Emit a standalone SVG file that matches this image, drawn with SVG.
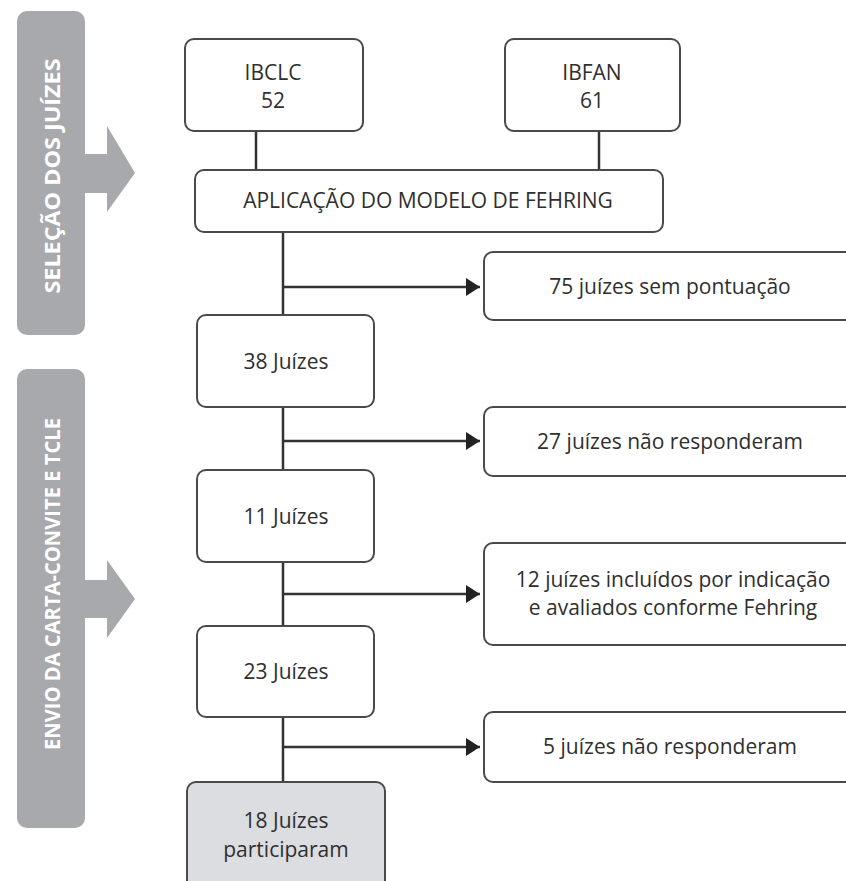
<svg xmlns="http://www.w3.org/2000/svg" width="846" height="881" viewBox="0 0 846 881">
<style>
.box{fill:#fff;stroke:#4a4a4a;stroke-width:2}
.fin{fill:#dcdde0;stroke:#4a4a4a;stroke-width:2}
.t{font-family:"Open Sans","Liberation Sans",sans-serif;font-size:21px;fill:#2f2f2f;text-anchor:middle}
.band{fill:#a8a9ac}
.bt{font-family:"Open Sans","Liberation Sans",sans-serif;font-size:22px;font-weight:bold;fill:#fff;text-anchor:middle}
.ln{stroke:#333;stroke-width:2.5;fill:none}
</style>
<defs>
<marker id="ah" markerWidth="14" markerHeight="18" refX="14" refY="9" orient="auto" markerUnits="userSpaceOnUse">
<path d="M0,0 L14,9 L0,18 Z" fill="#222"/>
</marker>
</defs>
<g id="band1">
<rect class="band" x="17" y="11" width="68" height="324" rx="10"/>
<path class="band" d="M84,154 H107 V126 L135,173 L107,212 V193 H84 Z"/>
<text class="bt" transform="translate(60,176) rotate(-90)" textLength="235" lengthAdjust="spacingAndGlyphs">SELEÇÃO DOS JUÍZES</text>
</g>
<g id="band2">
<rect class="band" x="17" y="369" width="68" height="459" rx="10"/>
<path class="band" d="M84,580 H107 V560 L135,599 L107,638 V618 H84 Z"/>
<text class="bt" transform="translate(60,584) rotate(-90)" textLength="332" lengthAdjust="spacingAndGlyphs">ENVIO DA CARTA-CONVITE E TCLE</text>
</g>
<g id="connectors">
<line class="ln" x1="256" y1="131" x2="256" y2="170"/>
<line class="ln" x1="599" y1="131" x2="599" y2="170"/>
<line class="ln" x1="283" y1="232" x2="283" y2="315"/>
<line class="ln" x1="283" y1="407" x2="283" y2="470"/>
<line class="ln" x1="283" y1="562" x2="283" y2="626"/>
<line class="ln" x1="283" y1="717" x2="283" y2="782"/>
<line class="ln" x1="283" y1="287" x2="480" y2="287" marker-end="url(#ah)"/>
<line class="ln" x1="283" y1="441" x2="480" y2="441" marker-end="url(#ah)"/>
<line class="ln" x1="283" y1="594" x2="480" y2="594" marker-end="url(#ah)"/>
<line class="ln" x1="283" y1="747" x2="480" y2="747" marker-end="url(#ah)"/>
</g>
<g id="ibclc">
<rect class="box" x="185" y="39" width="178" height="92" rx="9"/>
<text class="t" x="273" y="80">IBCLC</text>
<text class="t" x="273" y="108">52</text>
</g>
<g id="ibfan">
<rect class="box" x="505" y="39" width="175" height="92" rx="9"/>
<text class="t" x="592" y="80">IBFAN</text>
<text class="t" x="592" y="108">61</text>
</g>
<g id="fehring">
<rect class="box" x="195" y="170" width="468" height="62" rx="9"/>
<text class="t" x="428" y="208">APLICAÇÃO DO MODELO DE FEHRING</text>
</g>
<g id="j38">
<rect class="box" x="197" y="315" width="177" height="92" rx="9"/>
<text class="t" x="286" y="369">38 Juízes</text>
</g>
<g id="j11">
<rect class="box" x="197" y="470" width="177" height="92" rx="9"/>
<text class="t" x="286" y="524">11 Juízes</text>
</g>
<g id="j23">
<rect class="box" x="197" y="626" width="177" height="91" rx="9"/>
<text class="t" x="286" y="679">23 Juízes</text>
</g>
<g id="j18">
<rect class="fin" x="187" y="782" width="198" height="110" rx="9"/>
<text class="t" x="286" y="828">18 Juízes</text>
<text class="t" x="286" y="857">participaram</text>
</g>
<g id="r75">
<rect class="box" x="484" y="252" width="372" height="68" rx="9"/>
<text class="t" x="670" y="294">75 juízes sem pontuação</text>
</g>
<g id="r27">
<rect class="box" x="484" y="407" width="372" height="69" rx="9"/>
<text class="t" x="670" y="449">27 juízes não responderam</text>
</g>
<g id="r12">
<rect class="box" x="484" y="543" width="372" height="102" rx="9"/>
<text class="t" x="673" y="587">12 juízes incluídos por indicação</text>
<text class="t" x="673" y="615">e avaliados conforme Fehring</text>
</g>
<g id="r5">
<rect class="box" x="484" y="712" width="372" height="70" rx="9"/>
<text class="t" x="670" y="754">5 juízes não responderam</text>
</g>
</svg>
